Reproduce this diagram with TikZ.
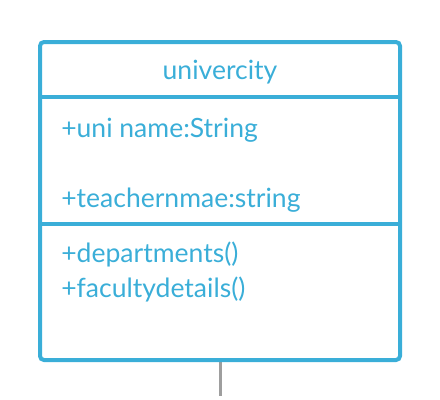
\documentclass[tikz,border=0pt]{standalone}
\usepackage{fontspec}
\setmainfont{Lato}
\usetikzlibrary{backgrounds}
\definecolor{umlblue}{RGB}{58,174,216}
\definecolor{lnkgray}{RGB}{158,158,158}
\begin{document}
\begin{tikzpicture}[x=0.75pt,y=-0.75pt,
  txt/.style={inner sep=0pt,anchor=base west,text=umlblue,font=\fontsize{19.9}{24}\selectfont},
  ttl/.style={inner sep=0pt,anchor=base,text=umlblue,font=\fontsize{19.9}{24}\selectfont},
  frame/.style={draw=umlblue,line width=3pt,rounded corners=3pt,outer sep=0pt,inner sep=0pt}]
\useasboundingbox (0,0) rectangle (440,400);
\node[frame,minimum width=360*0.75pt,minimum height=318*0.75pt,anchor=north west] (box) at (40,42) {};
\draw[umlblue,line width=3pt] (40,97) coordinate (d1l) -- (400,97) coordinate (d1r);
\draw[umlblue,line width=3pt] (40,224) coordinate (d2l) -- (400,224) coordinate (d2r);
\node[ttl] (title) at (220,79) {univercity};
\node[txt] (a1) at (61,137) {+uni name:String};
\node[txt] (a2) at (61,207) {+teachernmae:string};
\node[txt] (m1) at (61,262) {+departments()};
\node[txt] (m2) at (61,297) {+facultydetails()};
\coordinate (lend) at (220,396);
\begin{scope}[on background layer]
\draw[lnkgray,line width=2.25pt] (box.south) -- (lend);
\end{scope}
\end{tikzpicture}
\end{document}
